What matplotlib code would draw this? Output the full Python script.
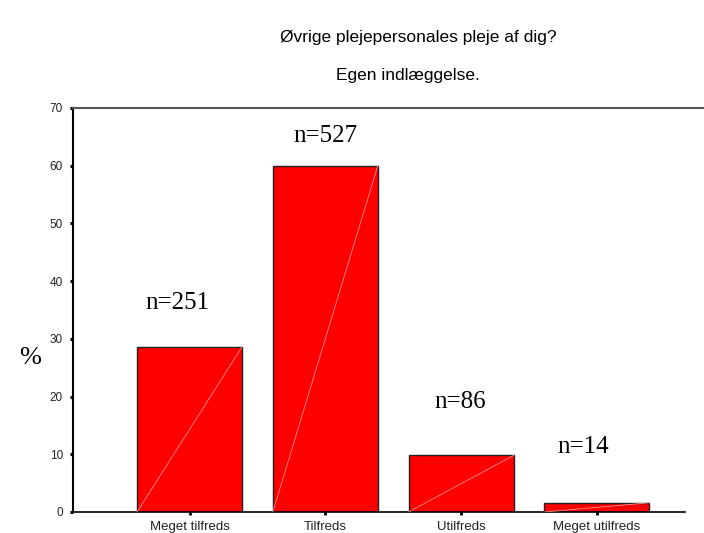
import matplotlib.pyplot as plt
from matplotlib.lines import Line2D

categories = ["Meget tilfreds", "Tilfreds", "Utilfreds", "Meget utilfreds"]
counts = [251, 527, 86, 14]
percent = [28.6, 60.0, 9.8, 1.6]
label_offset = [7.6, 5.2, 9.3, 9.7]
label_shift = [-0.09, 0.0, -0.01, -0.1]

plt.rcParams['font.family'] = ['Liberation Sans', 'DejaVu Sans']

fig = plt.figure(figsize=(7.04, 5.33), dpi=100)
ax = fig.add_axes([0.1037, 0.0394, 0.8693, 0.758])

x = list(range(len(categories)))
bars = ax.bar(x, percent, width=0.773, color='#ff0000', edgecolor='#222222', linewidth=1.0, zorder=2)

# faint diagonal inside each bar
for b in bars:
    x0 = b.get_x()
    ax.plot([x0, x0 + b.get_width()], [0, b.get_height()], color='#ff9090', lw=0.6, zorder=3)

for i, (n, p) in enumerate(zip(counts, percent)):
    ax.text(i + label_shift[i], p + label_offset[i], f"n={n}", ha='center', va='center',
            family='Liberation Serif', fontsize=18)

ax.set_xlim(-0.858, 3.649)
ax.set_ylim(0, 70)
ax.set_yticks(range(0, 71, 10))
ax.set_xticks(x)
ax.set_xticklabels(categories, fontsize=9.5, color='#222222')
ax.tick_params(axis='y', labelsize=8.5, labelcolor='#222222', length=2.2, width=2.2, pad=5, direction='out')
ax.tick_params(axis='x', length=2, width=2, pad=4.5, direction='out')

for s in ['top', 'right']:
    ax.spines[s].set_visible(False)
ax.spines['left'].set_linewidth(1.5)
ax.spines['bottom'].set_linewidth(1.2)

fig.add_artist(Line2D([0.1037, 1.0], [0.7974, 0.7974], color='#555555', lw=1.5))

ax.set_ylabel('%', family='Liberation Serif', fontsize=19, rotation=0, va='center')
ax.yaxis.set_label_coords(-0.07, 0.38)

fig.text(0.594, 0.929, "Øvrige plejepersonales pleje af dig?", ha='center', va='center', fontsize=12.5)
fig.text(0.58, 0.859, "Egen indlæggelse.", ha='center', va='center', fontsize=12.5)

fig.savefig('out.png', dpi=100)
